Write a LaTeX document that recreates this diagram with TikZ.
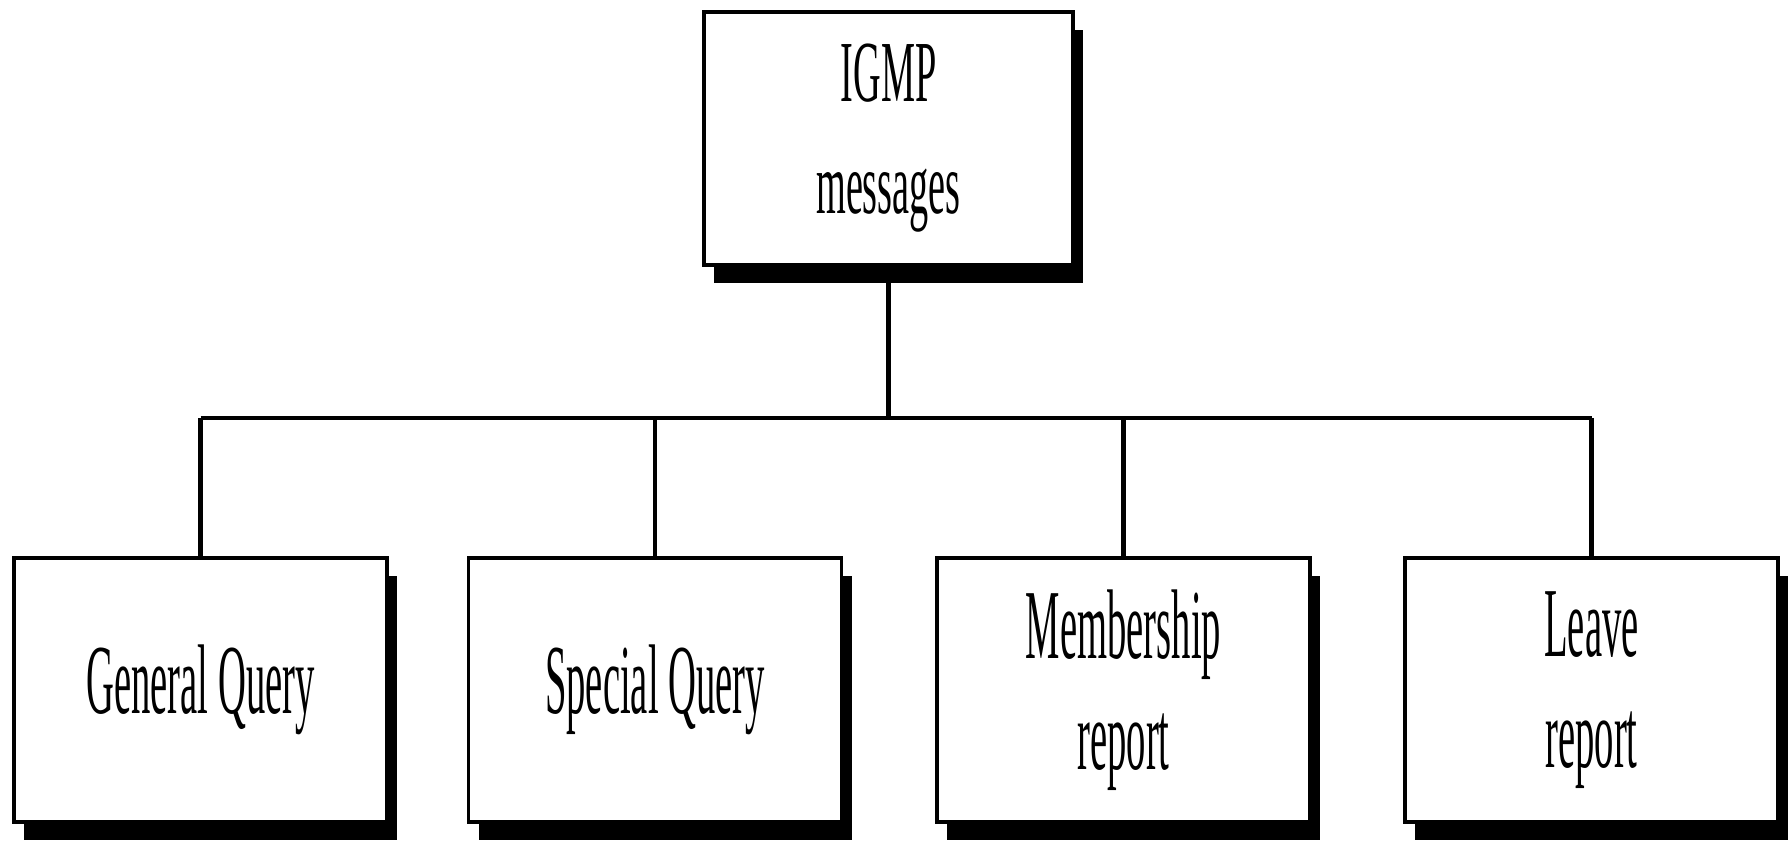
\documentclass[tikz,border=0pt]{standalone}
\usepackage{fontspec}
\newfontfamily\condbot[FakeStretch=0.39]{Liberation Serif}
\newfontfamily\condtop[FakeStretch=0.44]{Liberation Serif}
\usetikzlibrary{shadows}
\begin{document}
\begin{tikzpicture}[x=0.5pt,y=-0.5pt,
  box/.style={draw=black, line width=1.8pt, fill=white, inner sep=0pt, align=center,
    drop shadow={shadow xshift=5pt, shadow yshift=-9pt, fill=black, opacity=1}},
  botbox/.style={box, minimum width=186.5pt, minimum height=132pt,
    font=\fontsize{49.5}{55.5}\condbot},
  topbox/.style={box, minimum width=184.5pt, minimum height=126.5pt,
    font=\fontsize{43.5}{56}\condtop},
  conn/.style={line width=2.4pt}]
\useasboundingbox (0,0) rectangle (1789,848);
\node[topbox] (top) at (888.5,138.5) {IGMP\\messages};
\node[botbox] (g1) at (200.5,690) {General Query};
\node[botbox] (g2) at (655,690) {Special Query};
\node[botbox] (g3) at (1123.5,690) {Membership\\report};
\node[botbox] (g4) at (1591.5,690) {Leave\\report};
\coordinate (bar) at (888.5,418);
\draw[conn] (top.south) -- (top.south |- bar);
\draw[conn] (g1.north |- bar) -- (g4.north |- bar);
\foreach \n in {g1,g2,g3,g4}
  \draw[conn] (\n.north |- bar) -- (\n.north);
\end{tikzpicture}
\end{document}
